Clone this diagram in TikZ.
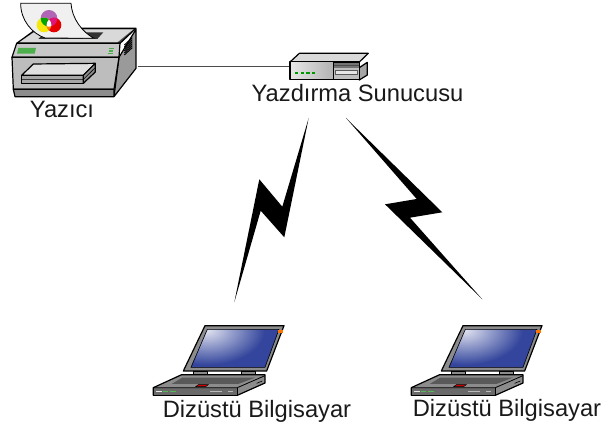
\documentclass[tikz,border=0pt]{standalone}
\usepackage{fontspec}
\setmainfont{Liberation Sans}
\usetikzlibrary{calc}
\definecolor{lapgrey}{HTML}{8C8C8C}
\definecolor{lapdark}{HTML}{6A6A6A}
\definecolor{scrblue}{HTML}{33459C}
\definecolor{prbody}{HTML}{BDBDBD}
\definecolor{prside}{HTML}{9A9A9A}
\tikzset{
  lbl/.style={font=\fontsize{23.7}{26}\selectfont,inner sep=0pt,text=black!90,anchor=base},
  ol/.style={draw=black,line width=1.2pt,line join=round},
  thin ol/.style={draw=black,line width=0.6pt,line join=round},
  bolt/.style={fill=black,draw=none},
  anchorbox/.style={inner sep=0pt,minimum width=#1,draw=none},
  wire/.style={draw=black!70,line width=0.7pt},
}
\newcommand{\laptopicon}[2]{%
\begin{scope}[shift={(#1,#2)},x=0.3333pt,y=-0.3333pt]
  % lid
  \fill[lapgrey,ol] (180,32) -- (417,32) -- (365,168) -- (115,168) -- cycle;
  \begin{scope}
    \clip (187,43) -- (402,43) -- (360,157) -- (138,157) -- cycle;
    \fill[scrblue] (100,0) rectangle (450,200);
    \shade[inner color=white!85!scrblue,outer color=scrblue,draw=none] (185,45) circle [x radius=175, y radius=105];
  \end{scope}
  \draw[black,line width=0.6pt] (187,43) -- (402,43) -- (360,157) -- (138,157) -- cycle;
  \fill[orange!90!red] (400,45) rectangle (413,54);
  % hinges
  \fill[lapgrey,thin ol] (145,168) rectangle (188,179);
  \fill[lapgrey,thin ol] (288,168) rectangle (330,179);
  % base
  \fill[lapgrey,ol] (110,179) -- (360,179) -- (360,204) -- (277,241) -- (25,241) -- (25,218) -- cycle;
  \fill[black!65] (80,207) -- (112,188) -- (330,188) -- (280,207) -- cycle;
  \fill[red!80!black,draw=black,line width=0.4pt] (152,215) -- (160,209) -- (190,209) -- (182,215) -- cycle;
  \fill[lapdark] (26,219) -- (277,219) -- (277,240) -- (26,240) -- cycle;
  \draw[black,line width=0.8pt] (25,218) -- (277,218) -- (360,182);
  \draw[black,line width=0.8pt] (277,218) -- (277,241);
  \fill[white!80!lapgrey] (33,229) rectangle (50,232);
  \fill[green!40!lapgrey] (54,229) rectangle (70,232);
  \fill[green!40!lapgrey] (74,229) rectangle (92,232);
  \fill[white!40!lapgrey] (195,229) rectangle (230,232);
  \fill[white!40!lapgrey] (250,229) rectangle (264,232);
  \draw[black,line width=0.6pt] (335,205) -- (352,198);
\end{scope}}
\begin{document}
\begin{tikzpicture}[x=1pt,y=-1pt]
\useasboundingbox (0,0) rectangle (605,430);
% printer
\begin{scope}[x=0.3333pt,y=-0.3333pt]
  \fill[prside,ol] (357,172) -- (408,88) -- (408,205) -- (342,290) -- cycle;
  \fill[black!70,ol] (50,130) -- (112,85) -- (408,85) -- (360,130) -- cycle;
  \fill[white!85!black] (58,127) -- (115,88) -- (400,88) -- (352,127) -- cycle;
  \fill[black!80] (115,117) -- (135,97) -- (310,97) -- (292,117) -- cycle;
  \fill[white!94!black,draw=black,line width=0.8pt]
    (62,10) -- (213,10) .. controls (216,55) and (245,95) .. (282,115)
    -- (135,114) .. controls (95,100) and (62,60) .. (62,10) -- cycle;
  % colour wheel
  \fill[blue!35!purple!60!white] (147,55) circle (25);
  \fill[yellow!95!black] (132,75) circle (22);
  \fill[red!90!black] (162,75) circle (22);
  \begin{scope}
    \clip (147,55) circle (25);
    \fill[green!65!black] (132,75) circle (22);
    \fill[magenta!70!purple] (162,75) circle (22);
  \end{scope}
  \begin{scope}
    \clip (132,75) circle (22);
    \fill[orange] (162,75) circle (22);
    \clip (147,55) circle (25);
    \fill[white] (162,75) circle (22);
  \end{scope}
  \fill[prbody!85!white,ol] (50,130) -- (360,130) -- (357,172) -- (36,172) -- cycle;
  \fill[green!55!black!70!white] (55,144) -- (108,144) -- (104,161) -- (51,161) -- cycle;
  \fill[green!55!black!70!white] (328,144) rectangle (342,148);
  \fill[green!55!black!70!white] (326,151) rectangle (340,155);
  \fill[green!55!black!70!white] (324,158) rectangle (338,162);
  \draw[black,line width=0.9pt] (373,135) -- (397,113) (373,141) -- (397,119) (373,147) -- (397,125) (373,153) -- (397,131) (373,159) -- (397,137) (373,165) -- (397,143);
  \fill[prbody,ol] (36,172) -- (357,172) -- (342,268) -- (40,268) -- cycle;
  \fill[black!45,ol] (40,268) -- (342,268) -- (342,290) -- (45,290) -- cycle;
  % tray
  \fill[white!88!black,ol] (65,226) -- (100,192) -- (286,190) -- (250,226) -- cycle;
  \fill[black!35,ol] (65,226) -- (250,226) -- (250,250) -- (65,250) -- cycle;
  \fill[black!45,ol] (250,226) -- (286,190) -- (286,216) -- (250,250) -- cycle;
  \draw[black,line width=0.6pt] (65,238) -- (250,238) -- (286,203);
\end{scope}
\node[anchorbox=1pt,minimum height=1pt] (printer) at (137,66) {};
\node[lbl] (printerlabel) at (62,118) {Yazıcı};
% server
\begin{scope}[shift={(280,40)},x=0.3333pt,y=-0.3333pt]
  \fill[black!35,ol] (262,67) -- (262,105) -- (238,120) -- (238,83) -- cycle;
  \fill[white!85!black,ol] (30,66) -- (58,40) -- (265,40) -- (238,66) -- cycle;
  \fill[black!25,ol] (30,66) -- (238,66) -- (238,118) -- (30,118) -- cycle;
  \shade[left color=white!90!black,right color=black!30] (33,69) rectangle (160,115);
  \draw[black,line width=0.5pt] (160,66) -- (160,118);
  \fill[black!55] (162,70) rectangle (236,84);
  \draw[black!70,line width=0.4pt] (162,77) -- (236,77);
  \fill[black!65] (166,90) rectangle (234,104);
  \fill[black!10] (168,92) rectangle (232,102);
  \fill[green!60!black] (45,97) rectangle (55,103);
  \fill[green!60!black] (62,97) rectangle (72,103);
  \fill[green!60!black] (79,97) rectangle (89,103);
  \fill[green!60!black] (96,97) rectangle (106,103);
\end{scope}
\node[anchorbox=1pt,minimum height=1pt] (server) at (290,66) {};
\node[lbl] (serverlabel) at (357.5,101.7) {Yazdırma Sunucusu};
\draw[wire] (printer) -- (server);
% bolts
\fill[bolt] (308.7,118) -- (282.3,206.7) -- (259.3,179.3) -- (234.3,302.3) -- (260.7,210.7) -- (284.3,237.3) -- cycle;
\fill[bolt] (346,118) -- (416.7,199) -- (385,204.3) -- (482.3,299.3) -- (410,217.7) -- (442.3,212.3) -- cycle;
% laptops
\laptopicon{145}{315}
\laptopicon{403}{315}
\node[lbl] (lapalabel) at (257,417.7) {Dizüstü Bilgisayar};
\node[lbl] (lapblabel) at (507,416.7) {Dizüstü Bilgisayar};
\end{tikzpicture}
\end{document}
